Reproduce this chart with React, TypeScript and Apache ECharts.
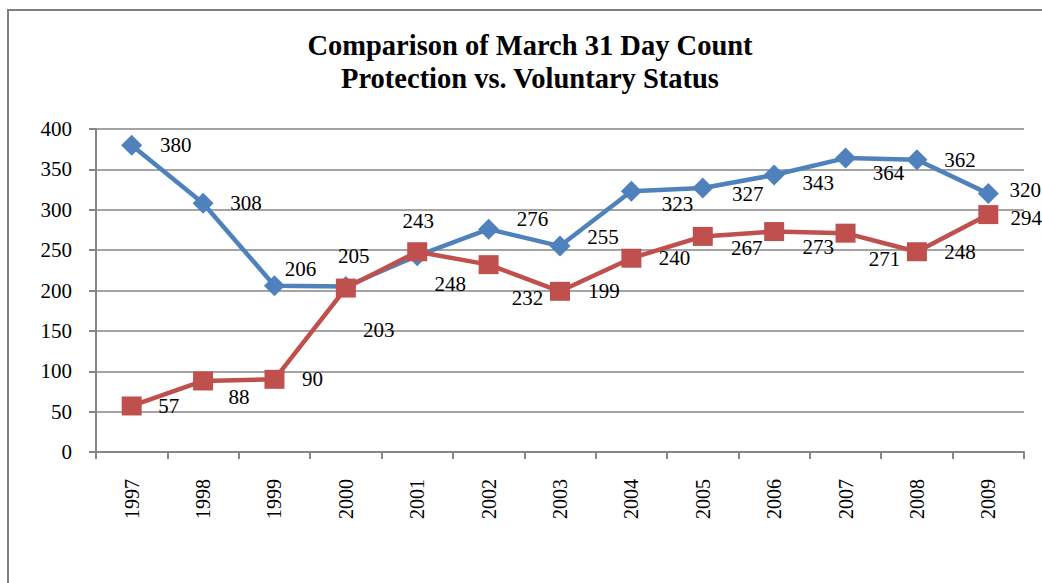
import React, { useEffect, useRef } from "react";
import * as echarts from "echarts";

const years = ["1997", "1998", "1999", "2000", "2001", "2002", "2003", "2004", "2005", "2006", "2007", "2008", "2009"];
const protection = [380, 308, 206, 205, 243, 276, 255, 323, 327, 343, 364, 362, 320];
const voluntary = [57, 88, 90, 203, 248, 232, 199, 240, 267, 273, 271, 248, 294];
const yTicks = { min: 0, max: 400, interval: 50 };
const titleLines = ["Comparison of March 31 Day Count", "Protection vs. Voluntary Status"];

// label offsets (dx, dy) relative to the point, as placed in the original
const protectionLabelShift = [[44, 0], [43, 0], [26, -17], [8, -30], [1, -35], [44, -10], [43, -9], [46, 13], [45, 6], [44, 8], [43, 15], [43, 0], [37, -4]];
const voluntaryLabelShift = [[37, 0], [36, 16], [38, 0], [33, 42], [33, 32], [39, 33], [44, 0], [43, 0], [44, 12], [44, 15], [39, 26], [43, 0], [38, 3]];

const FONT = "Liberation Serif";

export default function App() {
  const ref = useRef<HTMLDivElement>(null);
  useEffect(() => {
    const chart = echarts.init(ref.current!, null, { renderer: "svg" });
    const mk = (vals: number[], shifts: number[][]) =>
      vals.map((v, i) => ({
        value: v,
        label: { offset: shifts[i] },
      }));
    const labelBase = {
      show: true,
      position: "inside",
      color: "#000",
      fontFamily: FONT,
      fontSize: 21,
    };
    const titleStyle = {
      fontFamily: FONT,
      fontWeight: "bold",
      fontSize: 28.5,
      fill: "#000",
      align: "center",
      verticalAlign: "middle",
    };
    chart.setOption({
      animation: false,
      backgroundColor: "#fff",
      textStyle: { fontFamily: FONT },
      grid: { left: 96, right: 18, top: 129, bottom: 131, containLabel: false },
      graphic: [
        {
          type: "rect",
          shape: { x: 8, y: 10, width: 1200, height: 800 },
          style: { fill: "none", stroke: "#7f7f7f", lineWidth: 2 },
          silent: true,
        },
        { type: "text", x: 530, y: 45, style: { ...titleStyle, text: titleLines[0] } },
        { type: "text", x: 530, y: 78, style: { ...titleStyle, text: titleLines[1] } },
      ],
      xAxis: {
        type: "category",
        data: years,
        boundaryGap: true,
        axisLine: { show: true, lineStyle: { color: "#868686", width: 2 } },
        axisTick: { show: true, length: 7, lineStyle: { color: "#868686", width: 2 } },
        axisLabel: {
          rotate: 90,
          margin: 27,
          color: "#000",
          fontFamily: FONT,
          fontSize: 20,
        },
        splitLine: { show: false },
      },
      yAxis: {
        type: "value",
        min: yTicks.min,
        max: yTicks.max,
        interval: yTicks.interval,
        axisLine: { show: true, lineStyle: { color: "#868686", width: 2 } },
        axisTick: { show: true, length: 7, lineStyle: { color: "#868686", width: 2 } },
        axisLabel: {
          margin: 24,
          color: "#000",
          fontFamily: FONT,
          fontSize: 21,
        },
        splitLine: { show: true, lineStyle: { color: "#868686", width: 1.5 } },
      },
      series: [
        {
          name: "Protection",
          type: "line",
          data: mk(protection, protectionLabelShift),
          symbol: "diamond",
          symbolSize: [21, 21],
          itemStyle: { color: "#4F81BD" },
          lineStyle: { color: "#4F81BD", width: 4.5 },
          label: labelBase,
          z: 2,
        },
        {
          name: "Voluntary",
          type: "line",
          data: mk(voluntary, voluntaryLabelShift),
          symbol: "rect",
          symbolSize: [20, 19],
          itemStyle: { color: "#C0504D" },
          lineStyle: { color: "#C0504D", width: 4.5 },
          label: labelBase,
          z: 3,
        },
      ],
    });
    return () => chart.dispose();
  }, []);
  return (
    <div
      ref={ref}
      style={{ position: "fixed", left: 0, top: 0, width: 1042, height: 583, background: "#fff" }}
    />
  );
}
